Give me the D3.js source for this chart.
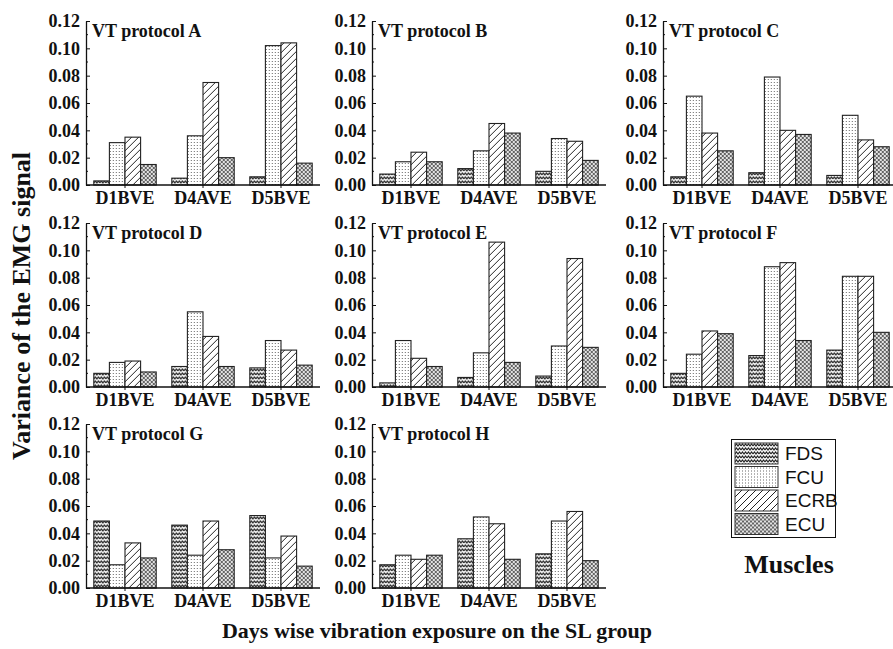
<!DOCTYPE html>
<html>
<head>
<meta charset="utf-8">
<script src="https://cdn.jsdelivr.net/npm/d3@7"></script>
<style>
  body { margin: 0; background: #fff; }
  svg { display: block; }
  text { font-family: "Liberation Serif", "Times New Roman", serif; font-weight: bold; fill: #111; }
  .legend text { font-family: "Liberation Sans", Arial, sans-serif; font-weight: normal; }
</style>
</head>
<body>
<div class="js-vis"></div>
<script>
"use strict";

// Data
var days = ["D1BVE", "D4AVE", "D5BVE"],
    muscles = ["FDS", "FCU", "ECRB", "ECU"],
    yTicks = [0, 0.02, 0.04, 0.06, 0.08, 0.10, 0.12];

// each row: one day, values in muscle order FDS, FCU, ECRB, ECU
var protocolA = [[0.003, 0.031, 0.035, 0.015], [0.005, 0.036, 0.075, 0.020], [0.006, 0.102, 0.104, 0.016]],
    protocolB = [[0.008, 0.017, 0.024, 0.017], [0.012, 0.025, 0.045, 0.038], [0.010, 0.034, 0.032, 0.018]],
    protocolC = [[0.006, 0.065, 0.038, 0.025], [0.009, 0.079, 0.040, 0.037], [0.007, 0.051, 0.033, 0.028]],
    protocolD = [[0.010, 0.018, 0.019, 0.011], [0.015, 0.055, 0.037, 0.015], [0.014, 0.034, 0.027, 0.016]],
    protocolE = [[0.003, 0.034, 0.021, 0.015], [0.007, 0.025, 0.106, 0.018], [0.008, 0.030, 0.094, 0.029]],
    protocolF = [[0.010, 0.024, 0.041, 0.039], [0.023, 0.088, 0.091, 0.034], [0.027, 0.081, 0.081, 0.040]],
    protocolG = [[0.049, 0.017, 0.033, 0.022], [0.046, 0.024, 0.049, 0.028], [0.053, 0.022, 0.038, 0.016]],
    protocolH = [[0.017, 0.024, 0.021, 0.024], [0.036, 0.052, 0.047, 0.021], [0.025, 0.049, 0.056, 0.020]];

var panels = [
  { name: "VT protocol A", values: protocolA },
  { name: "VT protocol B", values: protocolB },
  { name: "VT protocol C", values: protocolC },
  { name: "VT protocol D", values: protocolD },
  { name: "VT protocol E", values: protocolE },
  { name: "VT protocol F", values: protocolF },
  { name: "VT protocol G", values: protocolG },
  { name: "VT protocol H", values: protocolH }
];

var W = 893, H = 649;
var colX = [86, 372, 663],
    rowTop = [21, 223, 424],
    rowBottom = [185, 387, 588],
    plotW = 234;

var svg = d3.select(".js-vis").append("svg").attr("width", W).attr("height", H);

// fill patterns
var defs = svg.append("defs");

var p = defs.append("pattern").attr("id", "pat-FDS").attr("patternUnits", "userSpaceOnUse")
  .attr("width", 6).attr("height", 4);
p.append("rect").attr("width", 6).attr("height", 4).attr("fill", "#f4f4f4");
p.append("path").attr("d", "M0,3 L1.5,1 L3,3 L4.5,1 L6,3").attr("fill", "none").attr("stroke", "#222").attr("stroke-width", 1.1);

p = defs.append("pattern").attr("id", "pat-FCU").attr("patternUnits", "userSpaceOnUse")
  .attr("width", 3).attr("height", 3);
p.append("rect").attr("width", 3).attr("height", 3).attr("fill", "#fff");
p.append("rect").attr("x", 1).attr("y", 1).attr("width", 1).attr("height", 1).attr("fill", "#666");

p = defs.append("pattern").attr("id", "pat-ECRB").attr("patternUnits", "userSpaceOnUse")
  .attr("width", 7).attr("height", 7);
p.append("rect").attr("width", 7).attr("height", 7).attr("fill", "#fff");
p.append("path").attr("d", "M-1,8 L8,-1 M-1,1 L1,-1 M6,8 L8,6").attr("stroke", "#222").attr("stroke-width", 1);

p = defs.append("pattern").attr("id", "pat-ECU").attr("patternUnits", "userSpaceOnUse")
  .attr("width", 4).attr("height", 4);
p.append("rect").attr("width", 4).attr("height", 4).attr("fill", "#e2e2e2");
p.append("path").attr("d", "M0,0 L4,4 M4,0 L0,4").attr("stroke", "#444").attr("stroke-width", 0.8);

var muscleFill = function (m) { return "url(#pat-" + m + ")"; };

panels.forEach(function (panel, i) {
  var x0 = colX[i % 3], top = rowTop[Math.floor(i / 3)], bottom = rowBottom[Math.floor(i / 3)];

  var x = d3.scaleBand().domain(days).range([x0, x0 + plotW]).paddingInner(0.2).paddingOuter(0.1);
  var xm = d3.scaleBand().domain(muscles).range([0, x.bandwidth()]);
  var y = d3.scaleLinear().domain([0, 0.12]).range([bottom, top]);

  var g = svg.append("g");

  var groups = g.selectAll(".day").data(panel.values).enter().append("g")
    .attr("transform", function (d, j) { return "translate(" + x(days[j]) + ",0)"; });

  groups.selectAll("rect").data(function (d) { return d; }).enter().append("rect")
    .attr("x", function (d, k) { return xm(muscles[k]); })
    .attr("width", xm.bandwidth())
    .attr("y", function (d) { return y(d); })
    .attr("height", function (d) { return bottom - y(d); })
    .attr("fill", function (d, k) { return muscleFill(muscles[k]); })
    .attr("stroke", "#222").attr("stroke-width", 1.1);

  // y axis
  var yax = d3.axisLeft(y).tickValues(yTicks).tickFormat(d3.format(".2f")).tickSizeInner(-4).tickSizeOuter(0).tickPadding(6);
  var ya = g.append("g").attr("transform", "translate(" + x0 + ",0)").call(yax);
  ya.select(".domain").attr("stroke", "#111").attr("stroke-width", 1.3);
  ya.selectAll(".tick line").attr("stroke", "#111");
  ya.selectAll("text").style("font-size", "18px").attr("fill", "#111");
  ya.selectAll(".minor").data(d3.range(0.01, 0.12, 0.02)).enter().append("line")
    .attr("class", "minor").attr("x1", 0).attr("x2", 2)
    .attr("y1", function (d) { return y(d); }).attr("y2", function (d) { return y(d); })
    .attr("stroke", "#111");

  // x axis
  var xax = d3.axisBottom(x).tickSizeInner(3).tickSizeOuter(0).tickPadding(3);
  var xa = g.append("g").attr("transform", "translate(0," + bottom + ")").call(xax);
  xa.select(".domain").attr("d", "M" + x0 + ",0H" + (x0 + plotW)).attr("stroke", "#111").attr("stroke-width", 1.3);
  xa.selectAll(".tick line").attr("stroke", "#111");
  xa.selectAll("text").style("font-size", "18px").attr("fill", "#111");

  g.append("text").attr("x", x0 + 6).attr("y", top + 16).style("font-size", "18px").text(panel.name);
});

// axis titles
svg.append("text").attr("transform", "translate(30,306) rotate(-90)").attr("text-anchor", "middle")
  .style("font-size", "26px").text("Variance of the EMG signal");
svg.append("text").attr("x", 437).attr("y", 638).attr("text-anchor", "middle")
  .style("font-size", "22px").text("Days wise vibration exposure on the SL group");

// legend
var leg = svg.append("g").attr("class", "legend");
leg.append("rect").attr("x", 731.5).attr("y", 439.5).attr("width", 104).attr("height", 98)
  .attr("fill", "#fff").attr("stroke", "#111").attr("stroke-width", 1);
var items = leg.selectAll(".item").data(muscles).enter().append("g")
  .attr("transform", function (d, i) { return "translate(735," + (443 + i * 23.5) + ")"; });
items.append("rect").attr("width", 43).attr("height", 21).attr("fill", function (d) { return muscleFill(d); })
  .attr("stroke", "#333").attr("stroke-width", 1);
items.append("text").attr("x", 50).attr("y", 17).style("font-size", "19px").text(function (d) { return d; });

svg.append("text").attr("x", 789).attr("y", 573).attr("text-anchor", "middle")
  .style("font-size", "26px").text("Muscles");
</script>
</body>
</html>
